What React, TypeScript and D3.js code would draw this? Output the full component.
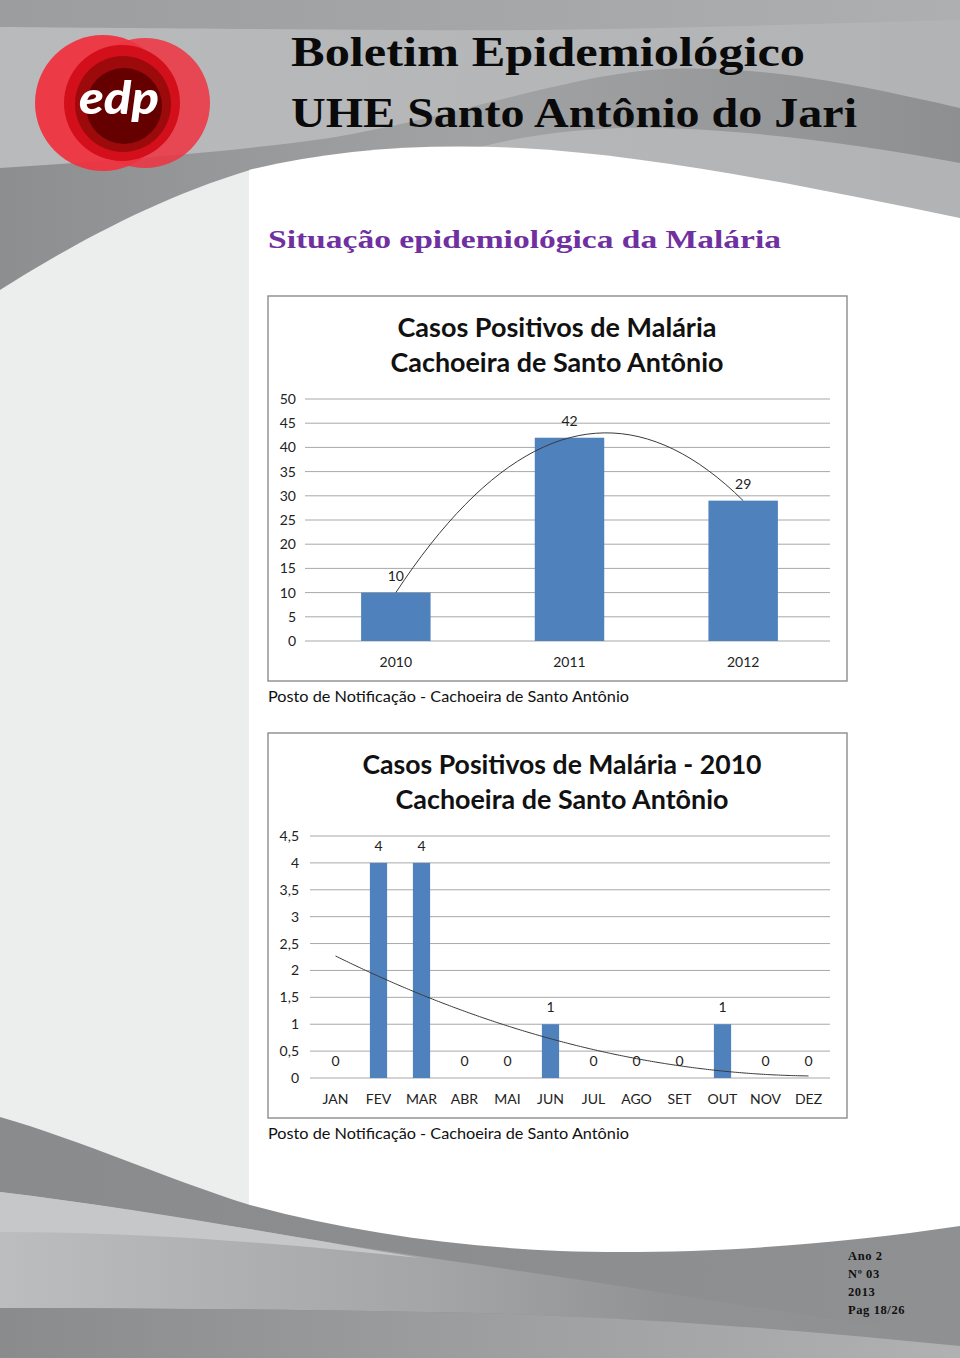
import React, { useEffect } from 'react';
import * as d3 from 'd3';

// ---------- data ----------
const years = ['2010', '2011', '2012'];
const yearCases = [10, 42, 29];
const yearTicks = [0, 5, 10, 15, 20, 25, 30, 35, 40, 45, 50];

const months = ['JAN', 'FEV', 'MAR', 'ABR', 'MAI', 'JUN', 'JUL', 'AGO', 'SET', 'OUT', 'NOV', 'DEZ'];
const monthCases = [0, 4, 4, 0, 0, 1, 0, 0, 0, 1, 0, 0];
const monthTicks = [0, 0.5, 1, 1.5, 2, 2.5, 3, 3.5, 4, 4.5];

const headerTitle = ['Boletim Epidemiológico', 'UHE Santo Antônio do Jari'];
const sectionTitle = 'Situação epidemiológica da Malária';
const chart1Title = ['Casos Positivos de Malária', 'Cachoeira de Santo Antônio'];
const chart2Title = ['Casos Positivos de Malária - 2010', 'Cachoeira de Santo Antônio'];
const caption = 'Posto de Notificação - Cachoeira de Santo Antônio';
const footerLines = ['Ano 2', 'Nº 03', '2013', 'Pag 18/26'];

// quadratic least-squares trend (Excel polynomial trendline, order 2)
function polyFit2(ys: number[]) {
  const n = ys.length;
  const xs = ys.map((_, i) => i);
  const s = (f: (x: number, y: number) => number) => xs.reduce((acc, x, i) => acc + f(x, ys[i]), 0);
  const S0 = n, S1 = s(x => x), S2 = s(x => x * x), S3 = s(x => x ** 3), S4 = s(x => x ** 4);
  const T0 = s((x, y) => y), T1 = s((x, y) => x * y), T2 = s((x, y) => x * x * y);
  const M = [[S0, S1, S2, T0], [S1, S2, S3, T1], [S2, S3, S4, T2]];
  for (let i = 0; i < 3; i++) {
    for (let j = i + 1; j < 3; j++) {
      const f = M[j][i] / M[i][i];
      for (let k = i; k < 4; k++) M[j][k] -= f * M[i][k];
    }
  }
  const r = [0, 0, 0];
  for (let i = 2; i >= 0; i--) {
    let v = M[i][3];
    for (let k = i + 1; k < 3; k++) v -= M[i][k] * r[k];
    r[i] = v / M[i][i];
  }
  const [c, b, a] = r;
  return (x: number) => c + b * x + a * x * x;
}

const FONT = 'Lato, "Open Sans", sans-serif';

type ChartProps = {
  box: { x: number; y: number; w: number; h: number };
  plot: { left: number; right: number; top: number; bottom: number };
  maxV: number;
  cats: string[];
  vals: number[];
  ticks: number[];
  fmt: (v: number) => string;
  title: string[];
  titleY: number[];
  titleLen: number[];
  titleX: number;
  xLabelY: number;
  yLabelX: number;
  captionY: number;
};

function Chart(p: ChartProps) {
  const x = d3.scaleBand<string>().domain(p.cats).range([p.plot.left, p.plot.right]).paddingInner(0.6).paddingOuter(0.3);
  const y = d3.scaleLinear().domain([0, p.maxV]).range([p.plot.bottom, p.plot.top]);
  const center = (i: number) => (x(p.cats[i]) as number) + x.bandwidth() / 2;
  const fit = polyFit2(p.vals);
  const samples = d3.range(0, p.vals.length - 1 + 1e-9, 0.05);
  const xc = d3.scaleLinear().domain([0, p.cats.length - 1]).range([center(0), center(p.cats.length - 1)]);
  const line = d3.line<number>().x(t => xc(t)).y(t => y(fit(t))).curve(d3.curveLinear);
  return (
    <g>
      <rect x={p.box.x} y={p.box.y} width={p.box.w} height={p.box.h} fill="#fff" stroke="#8c8c8c" strokeWidth={1.4} />
      {p.title.map((t, i) => (
        <text key={i} x={p.titleX} y={p.titleY[i]} textAnchor="middle" fontFamily={FONT} fontWeight={700} fontSize={26}
          fill="#111" textLength={p.titleLen[i]} lengthAdjust="spacingAndGlyphs">{t}</text>
      ))}
      {p.ticks.map(t => (
        <g key={t}>
          <line x1={p.plot.left - 4} x2={p.plot.right} y1={y(t)} y2={y(t)} stroke="#a8a8a8" strokeWidth={1} />
          <text x={p.yLabelX} y={y(t) + 5} textAnchor="end" fontFamily={FONT} fontSize={14} fill="#222">{p.fmt(t)}</text>
        </g>
      ))}
      {p.vals.map((v, i) => (
        <rect key={i} x={x(p.cats[i])} y={y(v)} width={x.bandwidth()} height={y(0) - y(v)} fill="#4f81bd" />
      ))}
      <path d={line(samples) || ''} fill="none" stroke="#3a3a3a" strokeWidth={1} />
      {p.vals.map((v, i) => (
        <text key={i} x={center(i)} y={y(v) - 12} textAnchor="middle" fontFamily={FONT} fontSize={14} fill="#222">{p.fmt(v)}</text>
      ))}
      {p.cats.map((c, i) => (
        <text key={c} x={center(i)} y={p.xLabelY} textAnchor="middle" fontFamily={FONT} fontSize={14} fill="#222">{c}</text>
      ))}
      <text x={p.box.x} y={p.captionY} fontFamily={FONT} fontSize={16} fill="#111" textLength={361} lengthAdjust="spacingAndGlyphs">{caption}</text>
    </g>
  );
}

const commaFmt = (v: number) => String(v).replace('.', ',');

export default function App() {
  useEffect(() => {
    document.body.style.margin = '0';
  }, []);
  return (
    <svg width={960} height={1358} viewBox="0 0 960 1358" style={{ display: 'block' }}>
      <defs>
        <linearGradient id="hdr" x1="0" x2="1" y1="0" y2="0">
          <stop offset="0" stopColor="#b9babc" />
          <stop offset="1" stopColor="#b2b3b5" />
        </linearGradient>
        <linearGradient id="topStrip" x1="0" x2="1">
          <stop offset="0" stopColor="#9c9d9f" />
          <stop offset="1" stopColor="#aeafb1" />
        </linearGradient>
        <linearGradient id="darkBand" x1="0" x2="1">
          <stop offset="0" stopColor="#8d8e90" />
          <stop offset="0.5" stopColor="#a2a3a5" />
          <stop offset="1" stopColor="#8e8f91" />
        </linearGradient>
        <linearGradient id="ftDark" x1="0" x2="1">
          <stop offset="0" stopColor="#8a8b8d" />
          <stop offset="1" stopColor="#8f9092" />
        </linearGradient>
        <linearGradient id="ftLight" x1="0" x2="1">
          <stop offset="0" stopColor="#bcbdbf" />
          <stop offset="0.45" stopColor="#a4a5a7" />
          <stop offset="0.7" stopColor="#919294" />
          <stop offset="1" stopColor="#8f9092" />
        </linearGradient>
        <linearGradient id="ftBottom" x1="0" x2="1">
          <stop offset="0" stopColor="#8a8b8d" />
          <stop offset="0.5" stopColor="#9d9ea0" />
          <stop offset="1" stopColor="#b0b1b3" />
        </linearGradient>
      </defs>

      {/* page background */}
      <rect x={0} y={0} width={960} height={1358} fill="#ffffff" />
      {/* header */}
      <rect x={0} y={0} width={960} height={320} fill="url(#hdr)" />
      <path d="M0,0 H960 V20 C800,24 600,32 400,30 C250,29 100,28 0,27 Z" fill="url(#topStrip)" />
      <path d="M0,168 C120,160 230,152 330,138 C450,118 560,78 650,70 C760,62 870,88 960,108 L960,163 C850,142 720,126 620,128 C520,132 460,150 400,172 L248,200 L0,300 Z" fill="url(#darkBand)" />
      {/* sidebar */}
      <path d="M0,290 C60,252 150,200 250,170 L250,1240 L0,1240 Z" fill="#eceded" />
      {/* white content region */}
      <path d="M249,170 C330,150 420,143 520,148 C650,155 800,185 960,218 L960,1260 L249,1260 Z" fill="#ffffff" />

      {/* footer waves */}
      <path d="M0,1117 C80,1140 170,1180 250,1205 C350,1232 450,1246 560,1251 C680,1255 820,1247 960,1226 L960,1358 L0,1358 Z" fill="url(#ftDark)" />
      <path d="M0,1192 C150,1210 330,1245 480,1265 C650,1290 820,1318 960,1338 L960,1346 C800,1330 650,1318 480,1313 C330,1310 150,1308 0,1308 Z" fill="url(#ftLight)" />
      <path d="M0,1192 C150,1210 300,1238 420,1258 C300,1245 150,1232 0,1232 Z" fill="#c6c7c9" />
      <path d="M0,1308 C150,1308 330,1310 480,1313 C650,1318 800,1330 960,1346 L960,1358 L0,1358 Z" fill="url(#ftBottom)" />

      {/* logo */}
      <g>
        <circle cx={103} cy={103} r={68} fill="#ef3340" opacity={0.95} />
        <circle cx={145} cy={103} r={65} fill="#ef3340" opacity={0.85} />
        <circle cx={122} cy={103} r={58} fill="#d30f1c" />
        <circle cx={123} cy={104} r={48} fill="#9c0a0c" />
        <circle cx={124} cy={106} r={38} fill="#640000" />
        <text x={119} y={114} textAnchor="middle" fontFamily="Lato, sans-serif" fontStyle="italic" fontWeight={900} fontSize={46} fill="#ffffff" textLength={80} lengthAdjust="spacingAndGlyphs">edp</text>
      </g>

      {/* header titles */}
      <text x={291} y={66} fontFamily='"Liberation Serif", serif' fontWeight={700} fontSize={42} fill="#0a0a0a" textLength={514} lengthAdjust="spacingAndGlyphs">{headerTitle[0]}</text>
      <text x={291} y={127} fontFamily='"Liberation Serif", serif' fontWeight={700} fontSize={42} fill="#0a0a0a" textLength={566} lengthAdjust="spacingAndGlyphs">{headerTitle[1]}</text>
      <text x={268} y={248} fontFamily='"Liberation Serif", serif' fontWeight={700} fontSize={26} fill="#7030a0" textLength={513} lengthAdjust="spacingAndGlyphs">{sectionTitle}</text>

      <Chart
        box={{ x: 268, y: 296, w: 579, h: 385 }}
        plot={{ left: 309, right: 830, top: 399, bottom: 641 }}
        maxV={50} cats={years} vals={yearCases} ticks={yearTicks} fmt={commaFmt}
        title={chart1Title} titleY={[337, 372]} titleLen={[319, 333]} titleX={557}
        xLabelY={667} yLabelX={296} captionY={702}
      />
      <Chart
        box={{ x: 268, y: 733, w: 579, h: 385 }}
        plot={{ left: 314, right: 830, top: 836, bottom: 1078 }}
        maxV={4.5} cats={months} vals={monthCases} ticks={monthTicks} fmt={commaFmt}
        title={chart2Title} titleY={[774, 809]} titleLen={[399, 333]} titleX={562}
        xLabelY={1104} yLabelX={299} captionY={1139}
      />

      {/* footer info */}
      {footerLines.map((t, i) => (
        <text key={t} x={848} y={1260 + i * 18} fontFamily='"Liberation Serif", serif' fontWeight={700} fontSize={12.5} letterSpacing={0.6} fill="#111">{t}</text>
      ))}
    </svg>
  );
}
